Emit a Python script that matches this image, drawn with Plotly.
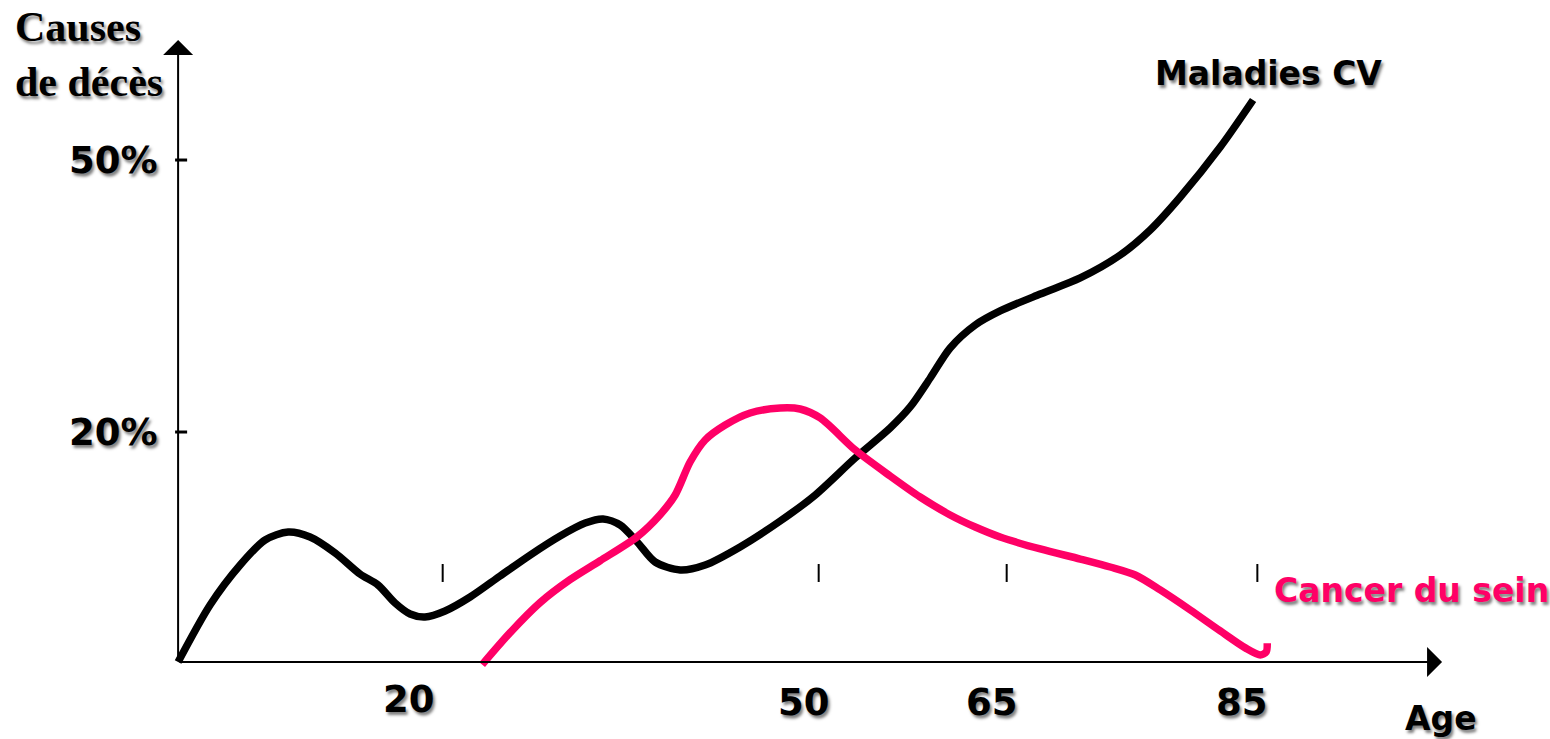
import plotly.graph_objects as go

# ---- data (age in years, value in % of deaths) ----
cv_age = [-1.11, 1.44, 3.84, 5.83, 7.67, 9.42, 11.42, 13.40, 14.84, 16.20, 17.40, 18.59,
          20.19, 22.19, 24.58, 26.98, 29.37, 31.37, 32.80, 34.16, 35.52, 36.95, 38.95,
          40.94, 43.73, 46.93, 49.72, 52.91, 55.70, 57.30, 58.90, 60.49, 62.49, 64.48,
          67.68, 70.87, 74.06, 76.45, 78.85, 82.04, 84.66]
cv_val = [-5.37, 0.92, 5.33, 8.09, 8.97, 8.42, 6.66, 4.34, 3.13, 1.14, -0.07, -0.40,
          0.26, 1.80, 4.12, 6.43, 8.53, 9.96, 10.40, 9.74, 7.87, 5.66, 4.78,
          5.33, 7.32, 10.18, 13.05, 17.13, 20.44, 22.76, 25.96, 29.27, 31.80, 33.35,
          35.22, 36.99, 39.52, 42.28, 45.92, 51.43, 56.62]

bc_age = [23.15, 25.38, 27.77, 30.16, 32.56, 35.52, 37.35, 38.55, 39.74, 40.94, 42.54,
          44.53, 46.93, 48.52, 50.12, 52.91, 55.70, 58.09, 60.49, 62.49, 64.48, 67.68,
          70.87, 73.26, 75.26, 77.25, 79.65, 82.04, 84.04, 85.23, 85.71, 85.79]
bc_val = [-5.66, -2.13, 1.18, 3.71, 5.80, 8.45, 10.88, 13.05, 16.69, 19.12, 20.77,
          22.10, 22.65, 22.54, 21.55, 18.02, 15.15, 12.83, 10.85, 9.52, 8.42, 7.10,
          5.99, 5.11, 4.23, 2.58, 0.37, -1.94, -3.81, -4.59, -4.26, -3.30]

x_ticks = [20, 50, 65, 85]
x_tick_labels = ["20", "50", "65", "85"]
y_ticks = [50, 20]
y_tick_labels = ["50%", "20%"]

series_names = ["Maladies CV", "Cancer du sein"]
y_title = "Causes<br>de décès"
x_title = "Age"

# ---- styles / layout constants ----
BLACK = "#000000"
PINK = "#FF0066"
SANS = "DejaVu Sans"
SERIF = "Liberation Serif"
SHADOW = "2px 3px 3px rgba(0,0,0,0.5)"

X_RANGE = [-15.32, 108.35]
Y_RANGE = [-13.86, 67.65]
ORIGIN = (-1.11, -5.37)
X_END = 99.74
Y_END = 63.24
label_xshift = [-34, -15, -15, -15]
label_yshift = [3, 0, 0, 0]

fig = go.Figure()

fig.add_trace(go.Scatter(x=cv_age, y=cv_val, mode="lines", name=series_names[0],
                         line=dict(color=BLACK, width=7.5, shape="spline", smoothing=0.8),
                         showlegend=False, hoverinfo="skip"))
fig.add_trace(go.Scatter(x=bc_age, y=bc_val, mode="lines", name=series_names[1],
                         line=dict(color=PINK, width=7.5, shape="spline", smoothing=0.8),
                         showlegend=False, hoverinfo="skip"))

shapes = []
# x tick marks (floating above the axis)
for t in x_ticks:
    shapes.append(dict(type="line", xref="x", yref="y", x0=t, x1=t, y0=3.46, y1=5.44,
                       line=dict(color=BLACK, width=2)))
# y tick marks crossing the axis
for t in y_ticks:
    shapes.append(dict(type="line", xref="x", yref="y", x0=-1.35, x1=-0.39, y0=t, y1=t,
                       line=dict(color=BLACK, width=3)))

annotations = []
# axes with arrows
annotations.append(dict(x=ORIGIN[0], y=Y_END, ax=ORIGIN[0], ay=ORIGIN[1], xref="x", yref="y",
                        axref="x", ayref="y", text="", showarrow=True, arrowhead=1,
                        arrowsize=2.5, arrowwidth=2, arrowcolor=BLACK))
annotations.append(dict(x=X_END, y=ORIGIN[1], ax=ORIGIN[0], ay=ORIGIN[1], xref="x", yref="y",
                        axref="x", ayref="y", text="", showarrow=True, arrowhead=1,
                        arrowsize=2.5, arrowwidth=2, arrowcolor=BLACK))

# x tick labels
for t, lab, sh, sv in zip(x_ticks, x_tick_labels, label_xshift, label_yshift):
    annotations.append(dict(x=t, y=-9.8, xref="x", yref="y", text=lab, showarrow=False,
                            xshift=sh, yshift=sv, xanchor="center", yanchor="middle",
                            font=dict(family=SANS, size=37, color=BLACK, weight="bold",
                                      shadow=SHADOW)))
# y tick labels
for t, lab in zip(y_ticks, y_tick_labels):
    annotations.append(dict(x=-2.55, y=t, xref="x", yref="y", text=lab, showarrow=False,
                            xanchor="right", yanchor="middle",
                            font=dict(family=SANS, size=37, color=BLACK, weight="bold",
                                      shadow=SHADOW)))

# axis titles
annotations.append(dict(x=-14.3, y=67.4, xref="x", yref="y", text=y_title, showarrow=False,
                        xanchor="left", yanchor="top", align="left",
                        font=dict(family=SERIF, size=42, color=BLACK, weight="bold",
                                  shadow=SHADOW)))
annotations.append(dict(x=99.66, y=-11.6, xref="x", yref="y", text=x_title, showarrow=False,
                        xanchor="center", yanchor="middle",
                        font=dict(family=SANS, size=33, color=BLACK, weight="bold",
                                  shadow=SHADOW)))

# series labels
annotations.append(dict(x=85.86, y=59.5, xref="x", yref="y", text=series_names[0],
                        showarrow=False, xanchor="center", yanchor="middle",
                        font=dict(family=SANS, size=33, color=BLACK, weight="bold",
                                  shadow=SHADOW)))
annotations.append(dict(x=86.18, y=2.57, xref="x", yref="y", text=series_names[1],
                        showarrow=False, xanchor="left", yanchor="middle",
                        font=dict(family=SANS, size=33, color=PINK, weight="bold",
                                  shadow=SHADOW)))

fig.update_layout(
    width=1550, height=739,
    margin=dict(l=0, r=0, t=0, b=0),
    paper_bgcolor="white", plot_bgcolor="white",
    xaxis=dict(range=X_RANGE, visible=False, fixedrange=True),
    yaxis=dict(range=Y_RANGE, visible=False, fixedrange=True),
    shapes=shapes, annotations=annotations,
    showlegend=False,
)

fig.write_html("out.html", config={"displayModeBar": False},
               post_script="document.body.style.margin='0';document.body.style.overflow='hidden';")
